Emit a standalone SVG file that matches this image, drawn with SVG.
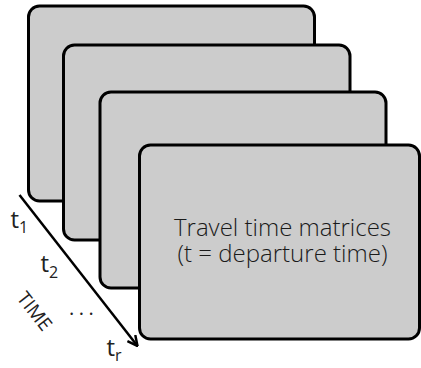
<svg xmlns="http://www.w3.org/2000/svg" width="421" height="368" viewBox="0 0 421 368">
<style>
.card{fill:#cccccc;stroke:#000;stroke-width:3}
.lbl{font-family:"Open Sans","Noto Sans","DejaVu Sans",sans-serif;font-weight:300;fill:#1a1a1a}
.sm{font-weight:400;fill:#222}
.conn{stroke:#000;stroke-width:2.5;fill:none}
</style>
<defs>
<marker id="arr" viewBox="0 0 12 12" refX="11" refY="6" markerWidth="12" markerHeight="12" markerUnits="userSpaceOnUse" orient="auto">
<polyline points="1,1 11,6 1,11" fill="none" stroke="#000" stroke-width="2.5"/>
</marker>
</defs>
<g id="card1"><rect class="card" x="28.5" y="6" width="286" height="195" rx="11"/></g>
<g id="card2"><rect class="card" x="63.5" y="45" width="286.5" height="195" rx="11"/></g>
<g id="card3"><rect class="card" x="100" y="92" width="286" height="196" rx="11"/></g>
<g id="card4"><rect class="card" x="139.5" y="145" width="280" height="194" rx="11"/>
<text class="lbl" font-size="24" text-anchor="middle" x="282.5" y="235.5">Travel time matrices</text>
<text class="lbl" font-size="24" text-anchor="middle" x="282.5" y="262">(t = departure time)</text>
</g>
<g id="connectors">
<line class="conn" x1="19.5" y1="195" x2="137.5" y2="346" marker-end="url(#arr)"/>
</g>
<g id="labels">
<text class="lbl sm" font-size="24" x="10.5" y="228">t<tspan font-size="16" dy="5">1</tspan></text>
<text class="lbl sm" font-size="24" x="40.5" y="272">t<tspan font-size="16" dy="6">2</tspan></text>
<text class="lbl sm" font-size="19" text-anchor="middle" transform="translate(35,311) rotate(52)" dy="7">TIME</text>
<text class="lbl sm" font-size="20" x="69" y="315" letter-spacing="4.5">...</text>
<text class="lbl sm" font-size="24" x="106.5" y="356">t<tspan font-size="16" dy="5">r</tspan></text>
</g>
</svg>
